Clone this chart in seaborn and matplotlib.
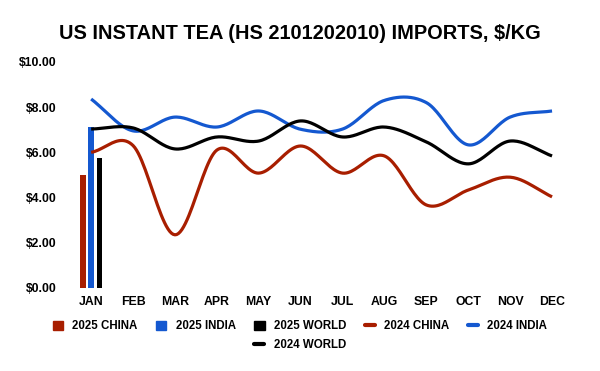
#!/usr/bin/env python3

import numpy as np
import pandas as pd
import seaborn as sns
import matplotlib.pyplot as plt
from matplotlib.patches import Patch
from matplotlib.lines import Line2D

months = ["JAN", "FEB", "MAR", "APR", "MAY", "JUN",
          "JUL", "AUG", "SEP", "OCT", "NOV", "DEC"]

bar_labels = ["2025 CHINA", "2025 INDIA", "2025 WORLD"]
bar_values = [5.00, 7.10, 5.75]

china_2024 = [6.00, 6.30, 2.35, 6.10, 5.08, 6.28, 5.08, 5.84, 3.67, 4.33, 4.90, 4.03]
india_2024 = [8.36, 6.95, 7.56, 7.12, 7.83, 7.02, 7.03, 8.30, 8.20, 6.33, 7.56, 7.83]
world_2024 = [7.03, 7.08, 6.15, 6.68, 6.50, 7.39, 6.68, 7.12, 6.46, 5.49, 6.50, 5.84]

red = "#A81E00"
blue = "#1458D0"
black = "#000000"


def smooth(ys, n=24):
    # catmull-rom curve through the monthly points (like excel's smoothed line)
    ys = np.asarray(ys, dtype=float)
    p = np.concatenate([[2 * ys[0] - ys[1]], ys, [2 * ys[-1] - ys[-2]]])
    xs_out, ys_out = [], []
    t = np.linspace(0, 1, n, endpoint=False)
    for i in range(len(ys) - 1):
        p0, p1, p2, p3 = p[i], p[i + 1], p[i + 2], p[i + 3]
        seg = 0.5 * ((2 * p1) + (-p0 + p2) * t
                     + (2 * p0 - 5 * p1 + 4 * p2 - p3) * t ** 2
                     + (-p0 + 3 * p1 - 3 * p2 + p3) * t ** 3)
        xs_out.extend(i + t)
        ys_out.extend(seg)
    xs_out.append(len(ys) - 1)
    ys_out.append(ys[-1])
    return np.array(xs_out), np.array(ys_out)


sns.set_theme(style="white")
plt.rcParams["font.family"] = ["Liberation Sans", "DejaVu Sans"]
plt.rcParams["font.weight"] = "bold"
plt.rcParams["text.color"] = "black"
plt.rcParams["xtick.color"] = "black"
plt.rcParams["ytick.color"] = "black"

fig = plt.figure(figsize=(6, 3.71), dpi=100)
ax = fig.add_axes([0.117, 0.224, 0.838, 0.609])

bars = pd.DataFrame({"month": ["JAN"] * 3, "series": bar_labels, "value": bar_values})
sns.barplot(data=bars, x="month", y="value", hue="series", order=months,
            hue_order=bar_labels, palette=[red, blue, black],
            width=0.6, gap=0.3, linewidth=0, saturation=1,
            legend=False, ax=ax)

for ys, c in [(china_2024, red), (india_2024, blue), (world_2024, black)]:
    sx, sy = smooth(ys)
    ax.plot(sx, sy, color=c, lw=2.3, solid_capstyle="butt", zorder=3)

ax.set_xlim(-0.5, 11.5)
ax.set_ylim(0, 10)
ax.set_yticks(np.arange(0, 11, 2))
ax.set_yticklabels([f"${v:.2f}" for v in np.arange(0, 11, 2)])
ax.set_xlabel("")
ax.set_ylabel("")
ax.tick_params(axis="both", length=0, labelsize=8.8, colors="black")
ax.tick_params(axis="y", pad=10)
ax.tick_params(axis="x", pad=6)
for lab in ax.get_xticklabels() + ax.get_yticklabels():
    lab.set_fontweight("bold")
ax.grid(False)
sns.despine(ax=ax, left=True, bottom=True)

fig.suptitle("US INSTANT TEA (HS 2101202010) IMPORTS, $/KG",
             fontsize=14.4, fontweight="bold", color="black", x=0.5, y=0.935)

handles1 = [Patch(color=red), Patch(color=blue), Patch(color=black),
            Line2D([], [], color=red, lw=3), Line2D([], [], color=blue, lw=3)]
labels1 = bar_labels + ["2024 CHINA", "2024 INDIA"]
fig.legend(handles1, labels1, ncol=5, loc="center", bbox_to_anchor=(0.5, 0.12),
           frameon=False, prop={"size": 8.3, "weight": "bold"},
           handlelength=0.9, handleheight=0.9, columnspacing=1.6, handletextpad=0.8)
fig.legend([Line2D([], [], color=black, lw=3)], ["2024 WORLD"], loc="center",
           bbox_to_anchor=(0.5, 0.07), frameon=False,
           prop={"size": 8.3, "weight": "bold"}, handlelength=0.9, handletextpad=0.8)

fig.savefig("out.png", dpi=100)
